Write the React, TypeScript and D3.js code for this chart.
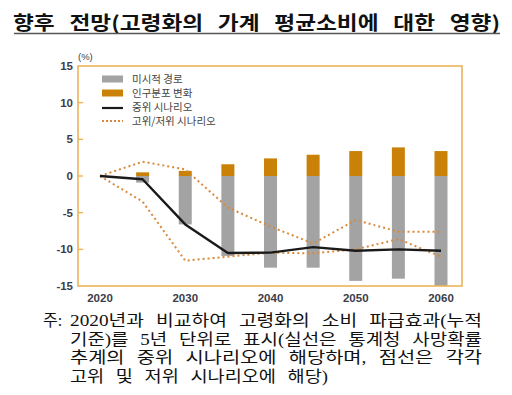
import React from "react";
import * as d3 from "d3";

const years = [2020, 2025, 2030, 2035, 2040, 2045, 2050, 2055, 2060];
const barYears = [2025, 2030, 2035, 2040, 2045, 2050, 2055, 2060];
const microPath = [-0.9, -6.6, -10.9, -12.5, -12.5, -14.3, -14.0, -15.0];
const popChange = [0.5, 0.7, 1.6, 2.4, 2.9, 3.4, 3.9, 3.4];
const medianScenario = [0, -0.45, -6.6, -10.5, -10.45, -9.7, -10.2, -10.0, -10.2];
const highScenario = [0, 1.95, 0.9, -4.3, -6.9, -9.2, -6.0, -7.6, -7.6];
const lowScenario = [0, -3.5, -11.55, -11.0, -10.45, -10.55, -10.0, -8.6, -11.0];
const yTicks = [15, 10, 5, 0, -5, -10, -15];
const xTicks = [2020, 2030, 2040, 2050, 2060];
const legendLabels = ["미시적 경로", "인구분포 변화", "중위 시나리오", "고위/저위 시나리오"];
const title = "향후 전망(고령화의 가계 평균소비에 대한 영향)";
const noteLines = [
  "2020년과 비교하여 고령화의 소비 파급효과(누적",
  "기준)를 5년 단위로 표시(실선은 통계청 사망확률",
  "추계의 중위 시나리오에 해당하며, 점선은 각각",
  "고위 및 저위 시나리오에 해당)",
];

const GRAY = "#a3a3a3";
const ORANGE = "#c98108";
const DOT = "#d9893a";
const FRAME = "#ecb45a";
const TXT = "#3c3c4a";

export default function App() {
  const L = 78, R = 462, T = 66, B = 286;
  const x = d3.scaleLinear().domain([2020, 2060]).range([100, 441]);
  const y = d3.scaleLinear().domain([-15, 15]).range([B, T]);
  const bw = 13;
  const line = d3
    .line<number>()
    .x((_, i) => x(years[i]))
    .y((d) => y(d));
  const axisFont = "Liberation Sans, Arial, sans-serif";
  const kFont = "Noto Sans CJK KR, sans-serif";
  const serif = "Liberation Serif, Noto Sans CJK KR, serif";
  const noteWidths = [412, 412, 412, 258];

  return (
    <svg width={512} height={395} style={{ position: "absolute", left: 0, top: 0, background: "#fff" }}>
      <text x={13} y={30} fontFamily={kFont} fontWeight={700} fontSize={19} fill="#111"
        textLength={487} lengthAdjust="spacingAndGlyphs" style={{ wordSpacing: "8px", whiteSpace: "pre" }}>
        {title}
      </text>
      <line x1={14} x2={500} y1={33.5} y2={33.5} stroke="#555" strokeWidth={1.3} />

      {/* bars */}
      {barYears.map((yr, i) => (
        <g key={yr}>
          <rect x={x(yr) - bw / 2} y={y(0)} width={bw} height={y(microPath[i]) - y(0)} fill={GRAY} />
          <rect x={x(yr) - bw / 2} y={y(popChange[i])} width={bw} height={y(0) - y(popChange[i])} fill={ORANGE} />
        </g>
      ))}

      {/* lines */}
      <path d={line(highScenario) || ""} fill="none" stroke={DOT} strokeWidth={2} strokeDasharray="2 3" />
      <path d={line(lowScenario) || ""} fill="none" stroke={DOT} strokeWidth={2} strokeDasharray="2 3" />
      <path d={line(medianScenario) || ""} fill="none" stroke="#1a1a1a" strokeWidth={2.4} strokeLinejoin="round" />

      {/* frame */}
      <rect x={L} y={T} width={R - L} height={B - T} fill="none" stroke={FRAME} strokeWidth={1.6} />
      {yTicks.map((t) => (
        <g key={t}>
          {t !== 15 && t !== -15 && <line x1={L} x2={L + 5} y1={y(t)} y2={y(t)} stroke={FRAME} strokeWidth={1.4} />}
          <text x={73} y={y(t) + 4} textAnchor="end" fontFamily={axisFont} fontWeight={700} fontSize={11.5} fill={TXT}>
            {t < 0 ? "-" + Math.abs(t) : t}
          </text>
        </g>
      ))}
      <text x={78} y={60} fontFamily={axisFont} fontSize={9.5} fill={TXT}>(%)</text>
      {xTicks.map((t) => (
        <text key={t} x={x(t)} y={302} textAnchor="middle" fontFamily={axisFont} fontWeight={700} fontSize={11.5} fill={TXT}>
          {t}
        </text>
      ))}

      {/* legend */}
      <rect x={102} y={75.5} width={21} height={7} fill={GRAY} />
      <rect x={102} y={89.5} width={21} height={7} fill={ORANGE} />
      <line x1={102} x2={123} y1={108} y2={108} stroke="#1a1a1a" strokeWidth={2.2} />
      <line x1={102} x2={123} y1={121} y2={121} stroke={DOT} strokeWidth={2} strokeDasharray="2 2" />
      {legendLabels.map((l, i) => (
        <text key={l} x={132} y={83 + i * 14} fontFamily={kFont} fontSize={10.5} fill="#444">
          {l}
        </text>
      ))}

      {/* note */}
      <text x={43} y={326} fontFamily={serif} fontSize={16} fill="#111">주:</text>
      {noteLines.map((l, i) => (
        <text key={i} x={70} y={326 + i * 18.5} fontFamily={serif} fontSize={16} fill="#111"
          textLength={noteWidths[i]} lengthAdjust="spacingAndGlyphs" style={{ wordSpacing: "6px", whiteSpace: "pre" }}>
          {l}
        </text>
      ))}
    </svg>
  );
}
